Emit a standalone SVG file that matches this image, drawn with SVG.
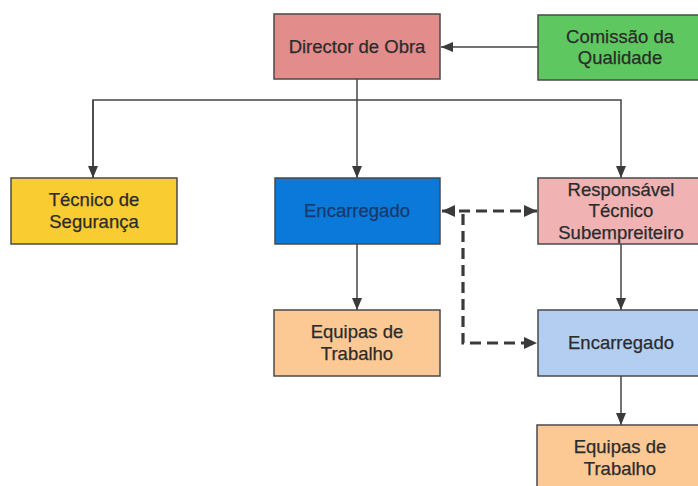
<svg xmlns="http://www.w3.org/2000/svg" width="698" height="486" viewBox="0 0 698 486">
<style>
.box{stroke:#4a4a4a;stroke-width:1.5}
.t{font-family:"Liberation Sans",Arial,sans-serif;font-size:18.5px;fill:#2b2b2b;text-anchor:middle;stroke:#2b2b2b;stroke-width:0.25}
.ln{fill:none;stroke:#444;stroke-width:1.5}
.dash{fill:none;stroke:#3a3a3a;stroke-width:3.2;stroke-dasharray:11,6}
</style>
<defs>
<marker id="ah" viewBox="0 0 12 10" refX="12" refY="5" markerWidth="12" markerHeight="10" markerUnits="userSpaceOnUse" orient="auto"><path d="M0,0 L12,5 L0,10 z" fill="#3a3a3a"/></marker>
<marker id="ah2" viewBox="0 0 13 12" refX="13" refY="6" markerWidth="13" markerHeight="12" markerUnits="userSpaceOnUse" orient="auto-start-reverse"><path d="M0,0 L13,6 L0,12 z" fill="#3a3a3a"/></marker>
</defs>
<rect width="698" height="486" fill="#fff"/>
<g id="connectors">
<path class="ln" d="M538,47 H441" marker-end="url(#ah)"/>
<path class="ln" d="M357,79 V178" marker-end="url(#ah)"/>
<path class="ln" d="M93,178 V100 H621 V178" marker-end="url(#ah)"/>
<path class="ln" d="M93,100 V178" marker-end="url(#ah)"/>
<path class="ln" d="M357,244 V310" marker-end="url(#ah)"/>
<path class="ln" d="M621,244 V310" marker-end="url(#ah)"/>
<path class="ln" d="M621,376 V425" marker-end="url(#ah)"/>
<path class="dash" d="M442,211 H537" marker-start="url(#ah2)" marker-end="url(#ah2)"/>
<path class="dash" d="M463,214 V343 H537" marker-end="url(#ah2)"/>
</g>
<g id="director">
<rect class="box" x="274" y="14" width="166" height="65" fill="#e38c8c"/>
<text class="t" x="357" y="53">Director de Obra</text>
</g>
<g id="comissao">
<rect class="box" x="538" y="15" width="166" height="65" fill="#5fc75f"/>
<text class="t" x="620" y="43">Comissão da</text>
<text class="t" x="620" y="64">Qualidade</text>
</g>
<g id="tecnico">
<rect class="box" x="11" y="178" width="166" height="66" fill="#f9cc32"/>
<text class="t" x="94" y="206">Técnico de</text>
<text class="t" x="94" y="228">Segurança</text>
</g>
<g id="encarregado1">
<rect class="box" x="275" y="178" width="165" height="66" fill="#0b79d9"/>
<text class="t" x="357" y="217" style="fill:#173a6a;stroke:#173a6a">Encarregado</text>
</g>
<g id="responsavel">
<rect class="box" x="538" y="178" width="166" height="66" fill="#f0b2b2"/>
<text class="t" x="621" y="196">Responsável</text>
<text class="t" x="621" y="217">Técnico</text>
<text class="t" x="621" y="239">Subempreiteiro</text>
</g>
<g id="equipas1">
<rect class="box" x="274" y="310" width="166" height="66" fill="#fcc995"/>
<text class="t" x="357" y="338">Equipas de</text>
<text class="t" x="357" y="360">Trabalho</text>
</g>
<g id="encarregado2">
<rect class="box" x="538" y="310" width="166" height="66" fill="#b3cef1"/>
<text class="t" x="621" y="349">Encarregado</text>
</g>
<g id="equipas2">
<rect class="box" x="537" y="425" width="167" height="66" fill="#fcc995"/>
<text class="t" x="620" y="453">Equipas de</text>
<text class="t" x="620" y="475">Trabalho</text>
</g>
</svg>
